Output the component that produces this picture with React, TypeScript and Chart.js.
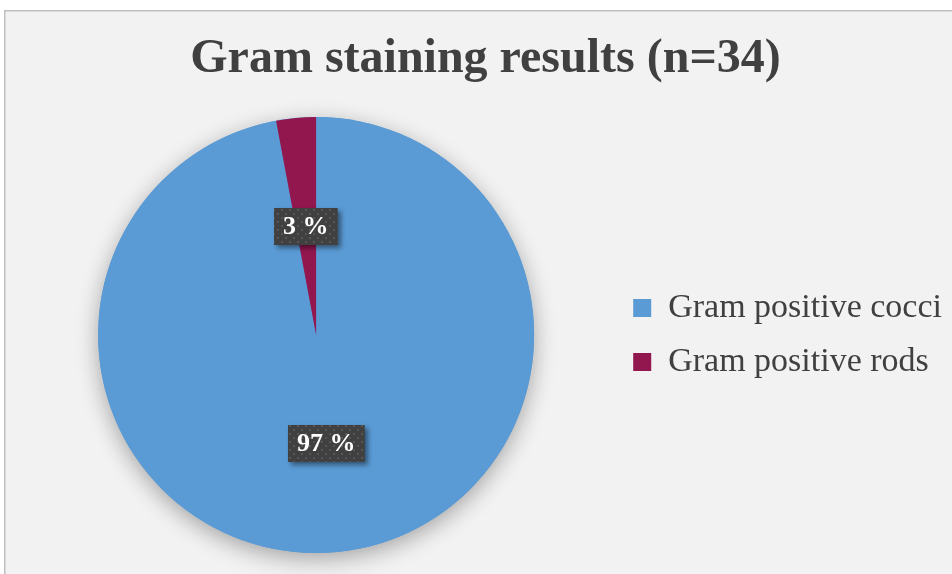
import { useEffect, useRef } from "react";
import { Chart, registerables } from "chart.js";

Chart.register(...registerables);

// Chart content
const titleText = "Gram staining results (n=34)";
const categories = ["Gram positive cocci", "Gram positive rods"];
const counts = [33, 1];
const sliceColors = ["#5b9bd5", "#92174f"];

const CANVAS_W = 952;
const CANVAS_H = 574;
const SERIF = "'Liberation Serif', 'Times New Roman', serif";
const INK = "#404040";

// Small tile with light dots used to texture the value boxes
function makeDotPattern(ctx: CanvasRenderingContext2D) {
  const tile = document.createElement("canvas");
  tile.width = 8;
  tile.height = 8;
  const t = tile.getContext("2d")!;
  t.fillStyle = "#404040";
  t.fillRect(0, 0, 8, 8);
  t.fillStyle = "#565656";
  t.fillRect(1, 1, 2, 2);
  t.fillRect(5, 5, 2, 2);
  return ctx.createPattern(tile, "repeat");
}

// Page-white surround and the grey panel with its top/left edge
const panelPlugin = {
  id: "panel",
  beforeDraw(chart: any) {
    const { ctx, width, height } = chart;
    ctx.save();
    ctx.fillStyle = "#ffffff";
    ctx.fillRect(0, 0, width, height);
    ctx.fillStyle = "#f2f2f2";
    ctx.fillRect(5, 11, width, height);
    ctx.strokeStyle = "#bfbfbf";
    ctx.lineWidth = 1.5;
    ctx.beginPath();
    ctx.moveTo(4.75, height + 2);
    ctx.lineTo(4.75, 10.75);
    ctx.lineTo(width + 2, 10.75);
    ctx.stroke();
    ctx.restore();
  },
};

// Soft drop shadow under the whole pie
const pieShadowPlugin = {
  id: "pieShadow",
  beforeDatasetsDraw(chart: any) {
    const arc = chart.getDatasetMeta(0).data[0];
    if (!arc) return;
    const { x, y, outerRadius } = arc.getProps(["x", "y", "outerRadius"], true);
    const ctx = chart.ctx;
    ctx.save();
    ctx.shadowColor = "rgba(0,0,0,0.32)";
    ctx.shadowBlur = 22;
    ctx.shadowOffsetY = 6;
    ctx.fillStyle = sliceColors[0];
    ctx.beginPath();
    ctx.arc(x, y, outerRadius, 0, Math.PI * 2);
    ctx.fill();
    ctx.restore();
  },
};

// Percentage callouts in dark dotted boxes at each slice's mid-radius
const valueBoxPlugin = {
  id: "valueBoxes",
  afterDatasetsDraw(chart: any) {
    const ctx: CanvasRenderingContext2D = chart.ctx;
    const values: number[] = chart.data.datasets[0].data;
    const total = values.reduce((a, b) => a + b, 0);
    const pattern = makeDotPattern(ctx);
    chart.getDatasetMeta(0).data.forEach((arc: any, i: number) => {
      const { x, y } = arc.tooltipPosition(true);
      const text = `${Math.round((values[i] / total) * 100)} %`;
      ctx.save();
      ctx.font = `bold 26px ${SERIF}`;
      const bw = ctx.measureText(text).width + 18;
      const bh = 37;
      const bx = Math.round(x - bw / 2);
      const by = Math.round(y - bh / 2);
      ctx.shadowColor = "rgba(0,0,0,0.45)";
      ctx.shadowBlur = 5;
      ctx.shadowOffsetX = 3;
      ctx.shadowOffsetY = 3;
      ctx.fillStyle = "#404040";
      ctx.fillRect(bx, by, bw, bh);
      ctx.shadowColor = "transparent";
      if (pattern) {
        ctx.fillStyle = pattern;
        ctx.fillRect(bx, by, bw, bh);
      }
      ctx.fillStyle = "#ffffff";
      ctx.textAlign = "center";
      ctx.textBaseline = "middle";
      ctx.fillText(text, bx + bw / 2, by + bh / 2 + 1);
      ctx.restore();
    });
  },
};

export default function App() {
  const canvasRef = useRef<HTMLCanvasElement | null>(null);

  useEffect(() => {
    const canvas = canvasRef.current;
    if (!canvas) return;
    const chart = new Chart(canvas, {
      type: "pie",
      data: {
        labels: categories,
        datasets: [
          {
            data: counts,
            backgroundColor: sliceColors,
            borderWidth: 0,
          },
        ],
      },
      options: {
        responsive: false,
        animation: false,
        events: [],
        layout: { padding: { left: 19, right: 0, top: 0, bottom: 21 } },
        plugins: {
          title: {
            display: true,
            text: titleText,
            color: INK,
            font: { family: SERIF, size: 48, weight: "bold", lineHeight: 1.2 },
            padding: { top: 31, bottom: 28.4 },
          },
          legend: {
            display: true,
            position: "right",
            fullSize: false,
            labels: {
              color: INK,
              font: { family: SERIF, size: 34 },
              boxWidth: 18,
              boxHeight: 18,
              padding: 20,
            },
          },
          tooltip: { enabled: false },
        },
      },
      plugins: [panelPlugin, pieShadowPlugin, valueBoxPlugin],
    });
    return () => chart.destroy();
  }, []);

  return (
    <div style={{ position: "fixed", left: 0, top: 0, width: CANVAS_W, height: CANVAS_H }}>
      <canvas ref={canvasRef} width={CANVAS_W} height={CANVAS_H} style={{ display: "block" }} />
    </div>
  );
}
